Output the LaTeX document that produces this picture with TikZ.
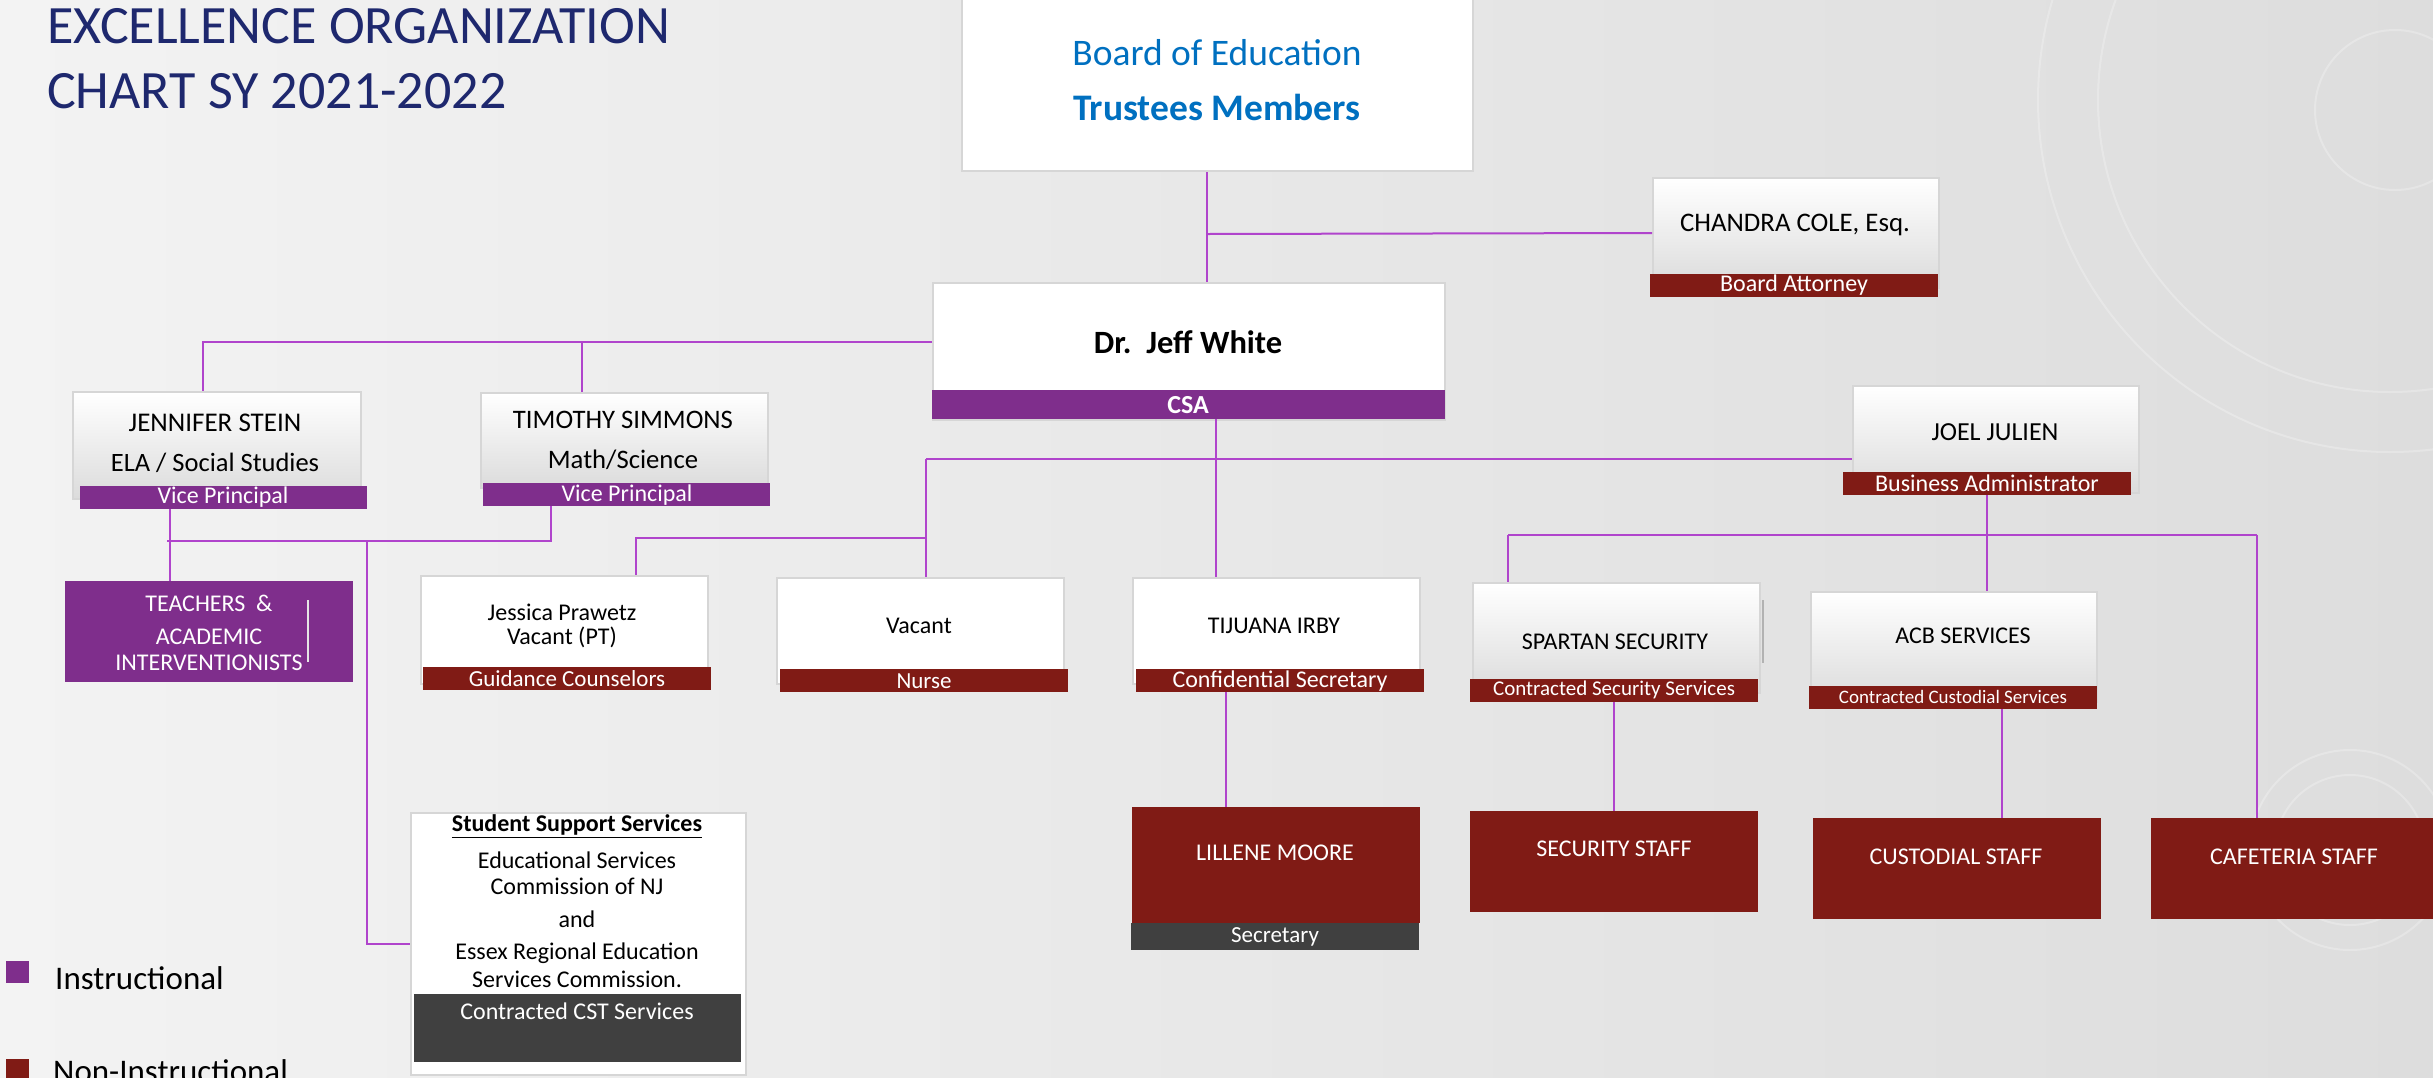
\documentclass[tikz,border=0pt]{standalone}
\usepackage{fontspec}
\setmainfont{Carlito}
\definecolor{bgL}{RGB}{243,243,243}
\definecolor{bgR}{RGB}{221,221,221}
\definecolor{navy}{RGB}{30,40,110}
\definecolor{boardblue}{RGB}{0,112,192}
\definecolor{vpurple}{RGB}{127,46,140}
\definecolor{dred}{RGB}{128,27,21}
\definecolor{dgrey}{RGB}{64,64,64}
\definecolor{conncol}{RGB}{176,68,204}
\definecolor{bordercol}{RGB}{214,214,214}
\newcommand\fsz[1]{\fontsize{#1}{#1}\selectfont}
\tikzset{
  wbox/.style={draw=bordercol, line width=2, fill=white, anchor=north west, inner sep=0},
  gbox/.style={draw=bordercol, line width=2, top color=white, bottom color=black!14, middle color=white!93!black, anchor=north west, inner sep=0},
  redbox/.style={fill=dred, anchor=north west, inner sep=0},
  purbox/.style={fill=vpurple, anchor=north west, inner sep=0},
  greybox/.style={fill=dgrey, anchor=north west, inner sep=0},
  redbar/.style={fill=dred, anchor=north west, inner sep=0, minimum height=23},
  purbar/.style={fill=vpurple, anchor=north west, inner sep=0, minimum height=23},
  nm/.style={inner sep=0, text=black, font=\fsz{24}},
  bt/.style={inner sep=0, text=white, font=\fsz{23}},
  conn/.style={draw=conncol, line width=2},
}
\begin{document}
\begin{tikzpicture}[x=1pt,y=-1pt]
\useasboundingbox (0,0) rectangle (2433,1077);
\clip (0,0) rectangle (2433,1077);
\shade[left color=bgL, right color=bgR] (0,0) rectangle (2433,1077);
% faint decorative circles
\begin{scope}[draw=white, opacity=0.25, line width=2]
  \draw (2390,100) circle (352);
  \draw (2390,100) circle (292);
  \draw (2395,110) circle (80);
  \draw (2350,850) circle (100);
  \draw (2350,850) circle (75);
\end{scope}

% title
\node[anchor=base west, inner sep=0, text=navy, font=\fsz{54}] (title1) at (47,43) {EXCELLENCE ORGANIZATION};
\node[anchor=base west, inner sep=0, text=navy, font=\fsz{54}] (title2) at (47,108) {CHART SY 2021-2022};

% boxes
\node[wbox, minimum width=511, minimum height=172] (board) at (961,-2) {};
\node[gbox, minimum width=286, minimum height=110] (chandra) at (1652,177) {};
\node[redbar, minimum width=288] (chandraBar) at (1650,274) {};
\node[wbox, minimum width=512, minimum height=137] (jeff) at (932,282) {};
\node[purbox, minimum width=513, minimum height=29] (jeffBar) at (932,390) {};
\node[gbox, minimum width=288, minimum height=107] (jennifer) at (72,391) {};
\node[purbar, minimum width=287] (jenBar) at (80,486) {};
\node[gbox, minimum width=287, minimum height=95] (timothy) at (480,392) {};
\node[purbar, minimum width=287] (timBar) at (483,483) {};
\node[gbox, minimum width=286, minimum height=107] (joel) at (1852,385) {};
\node[redbar, minimum width=288] (joelBar) at (1843,472) {};
\node[purbox, minimum width=288, minimum height=101] (teachers) at (65,581) {};
\node[wbox, minimum width=287, minimum height=108] (jessica) at (420,575) {};
\node[redbar, minimum width=288] (jesBar) at (423,667) {};
\node[wbox, minimum width=287, minimum height=106] (nurse) at (776,577) {};
\node[redbar, minimum width=288] (nurseBar) at (780,669) {};
\node[wbox, minimum width=287, minimum height=106] (tijuana) at (1132,577) {};
\node[redbar, minimum width=288] (tijBar) at (1136,669) {};
\node[gbox, minimum width=287, minimum height=110] (spartan) at (1472,582) {};
\node[redbar, minimum width=288] (spaBar) at (1470,679) {};
\node[gbox, minimum width=286, minimum height=110] (acb) at (1810,591) {};
\node[redbar, minimum width=288] (acbBar) at (1809,686) {};
\node[redbox, minimum width=288, minimum height=116] (lillene) at (1132,807) {};
\node[greybox, minimum width=288, minimum height=27] (lilBar) at (1131,923) {};
\node[redbox, minimum width=288, minimum height=101] (secstaff) at (1470,811) {};
\node[redbox, minimum width=288, minimum height=101] (custstaff) at (1813,818) {};
\node[redbox, minimum width=290, minimum height=101] (cafstaff) at (2151,818) {};
\node[wbox, minimum width=335, minimum height=262] (student) at (410,812) {};
\node[greybox, minimum width=327, minimum height=68] (stuBar) at (414,994) {};

% small artefact lines
\draw[white!80!gray, line width=1.5] (308,600) -- (308,662);
\draw[gray!60, line width=1.5] (1763,600) -- (1763,663);

% texts
\node[inner sep=0, text=boardblue, font=\fsz{37.5}] (boardT1) at (1217,53) {Board of Education};
\node[inner sep=0, text=boardblue, font=\bfseries\fsz{37.5}] (boardT2) at (1217,107) {Trustees Members};
\node[nm, font=\fsz{26.8}] (chandraT) at (1795,225) {CHANDRA COLE, Esq.};
\node[bt, font=\fsz{24}] (chandraBT) at (1794,285) {Board Attorney};
\node[nm, font=\bfseries\fsz{32.5}] (jeffT) at (1188,342) {Dr.\ \ Jeff White};
\node[bt, font=\bfseries\fsz{26}] (jeffBT) at (1188,405) {CSA};
\node[nm, font=\fsz{27}] (jenT1) at (215,423) {JENNIFER STEIN};
\node[nm, font=\fsz{26.5}] (jenT2) at (215,463) {ELA / Social Studies};
\node[bt, font=\fsz{24}] (jenBT) at (223,497) {Vice Principal};
\node[nm, font=\fsz{26.7}] (timT1) at (623,420) {TIMOTHY SIMMONS};
\node[nm, font=\fsz{26.7}] (timT2) at (623,460) {Math/Science};
\node[bt, font=\fsz{24}] (timBT) at (627,495) {Vice Principal};
\node[nm, font=\fsz{26}] (joelT) at (1995,432) {JOEL JULIEN};
\node[bt, font=\fsz{24}] (joelBT) at (1987,483) {Business Administrator};
\node[bt, font=\fsz{24}] (teachT1) at (209,603) {TEACHERS\ \ \&};
\node[bt, font=\fsz{24}] (teachT2) at (209,637) {ACADEMIC};
\node[bt, font=\fsz{24}] (teachT3) at (209,663) {INTERVENTIONISTS};
\node[nm, font=\fsz{24}] (jesT1) at (562,612) {Jessica Prawetz};
\node[nm, font=\fsz{24}] (jesT2) at (562,637) {Vacant (PT)};
\node[bt] (jesBT) at (567,679) {Guidance Counselors};
\node[nm, font=\fsz{24}] (nurseT) at (919,626) {Vacant};
\node[bt] (nurseBT) at (924,681) {Nurse};
\node[nm, font=\fsz{24}] (tijT) at (1274,626) {TIJUANA IRBY};
\node[bt, font=\fsz{24}] (tijBT) at (1280,681) {Confidential Secretary};
\node[nm] (spaT) at (1615,642) {SPARTAN SECURITY};
\node[bt, font=\fsz{21}] (spaBT) at (1614,690) {Contracted Security Services};
\node[nm] (acbT) at (1963,636) {ACB SERVICES};
\node[bt, font=\fsz{19}] (acbBT) at (1953,697) {Contracted Custodial Services};
\node[bt, font=\fsz{24}] (lilT) at (1275,853) {LILLENE MOORE};
\node[bt] (lilBT) at (1275,937) {Secretary};
\node[bt, font=\fsz{24}] (secT) at (1614,849) {SECURITY STAFF};
\node[bt, font=\fsz{24}] (custT) at (1956,857) {CUSTODIAL STAFF};
\node[bt, font=\fsz{24}] (cafT) at (2294,857) {CAFETERIA STAFF};
\node[nm, font=\bfseries\fsz{24}] (stuT1) at (577,826) {\underline{Student Support Services}};
\node[nm, font=\fsz{24}] (stuT2) at (577,860) {Educational Services};
\node[nm, font=\fsz{24}] (stuT3) at (577,886) {Commission of NJ};
\node[nm, font=\fsz{24}] (stuT4) at (577,919) {and};
\node[nm, font=\fsz{24}] (stuT5) at (577,953) {Essex Regional Education};
\node[nm, font=\fsz{24}] (stuT6) at (577,979) {Services Commission.};
\node[bt, font=\fsz{24}] (stuBT) at (577,1011) {Contracted CST Services};

% legend
\node[fill=vpurple, anchor=north west, inner sep=0, minimum width=23, minimum height=22] (legP) at (6,961) {};
\node[anchor=base west, inner sep=0, font=\fsz{33}] (legPT) at (55,989) {Instructional};
\node[fill=dred, anchor=north west, inner sep=0, minimum width=23, minimum height=22] (legR) at (6,1059) {};
\node[anchor=base west, inner sep=0, font=\fsz{33}] (legRT) at (53,1082) {Non-Instructional};

% junction coordinates
\coordinate (jBoard) at (1207,234);
\coordinate (jVP) at (203,342);
\coordinate (cTim) at (582,0);
\coordinate (cTeach) at (170,0);
\coordinate (jTimDown) at (551,541);
\coordinate (jTeachL) at (167,541);
\coordinate (jStu) at (367,541);
\coordinate (cCSA) at (1216,0);
\coordinate (jNurse) at (926,459);
\coordinate (jGuid) at (926,538);
\coordinate (cGuid) at (636,0);
\coordinate (cLil) at (1226,0);
\coordinate (cJoel) at (1987,0);
\coordinate (jSpa) at (1508,535);
\coordinate (jCaf) at (2257,535);
\coordinate (cSec) at (1614,0);
\coordinate (cCust) at (2002,0);

% connectors
\draw[conn] (board.south -| jBoard) -- (jeff.north -| jBoard);
\draw[conn] (jBoard) -- (chandra.west);
\draw[conn] (jeff.west |- jVP) -- (jVP) -- (jVP |- jennifer.north);
\draw[conn] (jVP -| cTim) -- (timothy.north -| cTim);
\draw[conn] (jenBar.south -| cTeach) -- (teachers.north -| cTeach);
\draw[conn] (timBar.south -| jTimDown) -- (jTimDown) -- (jTeachL);
\draw[conn] (jStu) |- (student.west);
\draw[conn] (jeffBar.south -| cCSA) -- (tijuana.north -| cCSA);
\draw[conn] (jNurse) -- (joel.west |- jNurse);
\draw[conn] (jNurse) -- (nurse.north -| jNurse);
\draw[conn] (jGuid) -| (jessica.north -| cGuid);
\draw[conn] (tijBar.south -| cLil) -- (lillene.north -| cLil);
\draw[conn] (joelBar.south -| cJoel) -- (acb.north -| cJoel);
\draw[conn] (jSpa) -- (jCaf);
\draw[conn] (jSpa) -- (spartan.north -| jSpa);
\draw[conn] (jCaf) -- (cafstaff.north -| jCaf);
\draw[conn] (spaBar.south -| cSec) -- (secstaff.north -| cSec);
\draw[conn] (acbBar.south -| cCust) -- (custstaff.north -| cCust);
\end{tikzpicture}
\end{document}
